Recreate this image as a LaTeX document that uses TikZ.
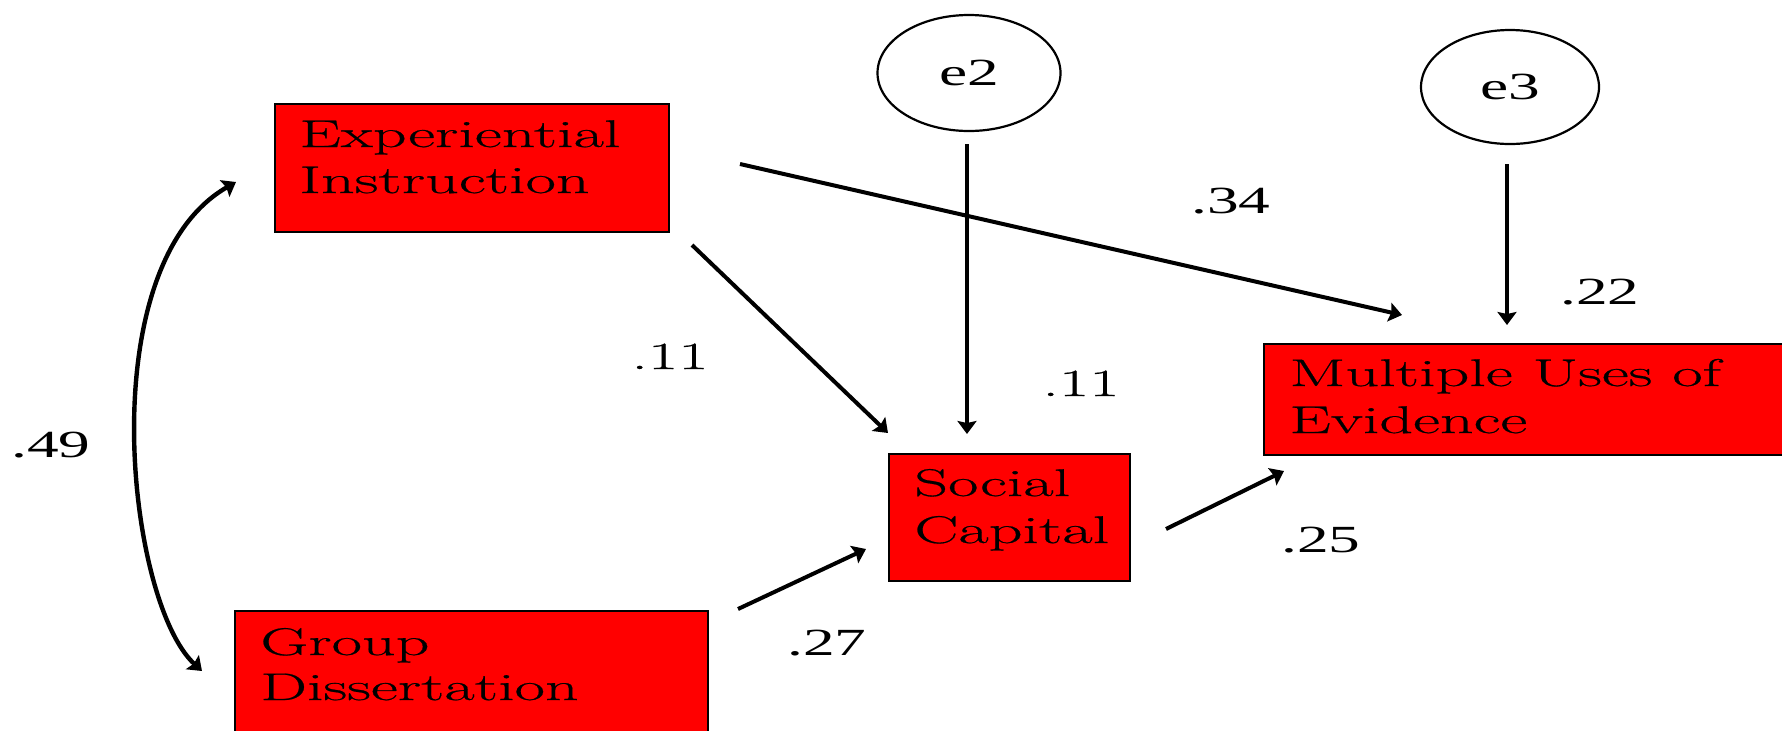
\documentclass[tikz,border=0pt]{standalone}
\usepackage{fontspec}
\newfontfamily\boxfont[FakeStretch=1.71,FakeBold=0.5]{Latin Modern Roman}
\newfontfamily\numfont[FakeStretch=1.65]{Liberation Serif}
\usetikzlibrary{arrows.meta,shapes.geometric}
\begin{document}
\begin{tikzpicture}[x=0.5pt,y=-0.5pt,
  box/.style={draw=black,line width=1pt,fill=red,anchor=north west,inner sep=0pt},
  btext/.style={anchor=base west,inner sep=0pt,font=\boxfont\fontsize{19.3}{23}\selectfont},
  coef/.style={anchor=base,inner sep=0pt,font=\numfont\fontsize{19.2}{23}\selectfont},
  coefb/.style={anchor=base,inner sep=0pt,font=\boxfont\fontsize{19.3}{23}\selectfont},
  err/.style={draw,ellipse,line width=1.1pt,inner sep=0pt,font=\numfont\fontsize{19.2}{23}\selectfont},
  tip/.tip={Stealth[length=6.5pt,width=9.5pt,inset=1pt]},
  link/.style={line width=2pt,-tip},
  dlink/.style={line width=2.2pt,tip-tip},
]
\useasboundingbox (0,0) rectangle (1782,730);
\clip (0,0) rectangle (1782,730);
\fill[white] (0,0) rectangle (1782,730);

% boxes
\node[box,minimum width=197pt,minimum height=64pt] (exp) at (274,103) {};
\node[box,minimum width=236.5pt,minimum height=65pt] (grp) at (234,610) {};
\node[box,minimum width=120.5pt,minimum height=63.5pt] (soc) at (888,453) {};
\node[box,minimum width=263.5pt,minimum height=55.5pt] (mue) at (1263,343) {};

\node[btext] (exp1) at (299,147) {Experiential};
\node[btext] (exp2) at (299,193) {Instruction};
\node[btext] (grp1) at (260,655) {Group};
\node[btext] (grp2) at (260,700) {Dissertation};
\node[btext] (soc1) at (914,496) {Social};
\node[btext] (soc2) at (914,543) {Capital};
\node[btext] (mue1) at (1289,386) {Multiple Uses of};
\node[btext] (mue2) at (1289,433) {Evidence};

% error terms
\node[err,minimum width=91.5pt,minimum height=58pt] (e2) at (969,73) {e2};
\node[err,minimum width=89pt,minimum height=57pt] (e3) at (1510,87) {e3};

% connector end points
\coordinate (e2s) at (967,144);
\coordinate (e2t) at (967,434);
\coordinate (e3s) at (1507,164);
\coordinate (e3t) at (1507,325);
\coordinate (es1) at (692,245);
\coordinate (et1) at (888,433);
\coordinate (es2) at (740,164);
\coordinate (et2) at (1402,315);
\coordinate (gs) at (738,609);
\coordinate (gt) at (866,549);
\coordinate (ss) at (1166,529);
\coordinate (st) at (1284,471);
\coordinate (ca) at (236,182);
\coordinate (cb) at (202,671);

\draw[link] (e2s) -- (e2t);
\draw[link] (e3s) -- (e3t);
\draw[link] (es1) -- (et1);
\draw[link] (es2) -- (et2);
\draw[link] (gs) -- (gt);
\draw[link] (ss) -- (st);
\draw[dlink] (ca) .. controls (90,266) and (127,602) .. (cb);

% coefficients
\node[coef] (c49) at (51,457) {.49};
\node[coef] (c34) at (1231,213) {.34};
\node[coef] (c22) at (1600,304) {.22};
\node[coef] (c25) at (1321,552) {.25};
\node[coef] (c27) at (827,655) {.27};
\node[coefb] (c11a) at (670,369) {.11};
\node[coefb] (c11b) at (1081,396) {.11};
\end{tikzpicture}
\end{document}
